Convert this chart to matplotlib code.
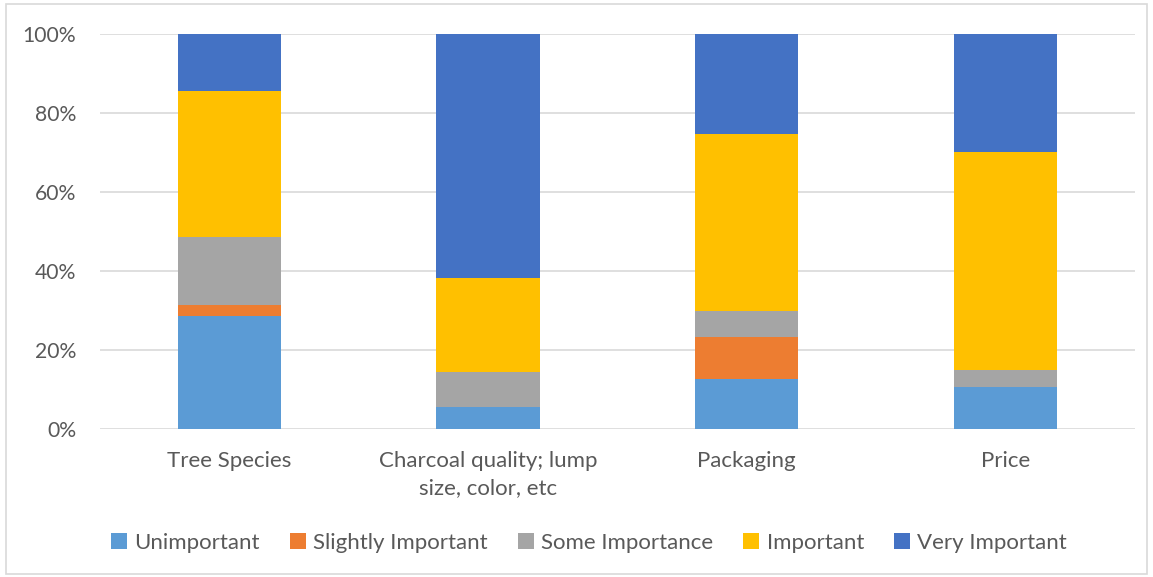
import matplotlib
matplotlib.use("Agg")
import matplotlib.pyplot as plt
from matplotlib.patches import Rectangle
import numpy as np

categories = ["Tree Species", "Charcoal quality; lump\nsize, color, etc", "Packaging", "Price"]
series_names = ["Unimportant", "Slightly Important", "Some Importance", "Important", "Very Important"]
unimportant = [28.6, 5.6, 12.7, 10.6]
slightly_important = [2.7, 0.0, 10.7, 0.0]
some_importance = [17.2, 8.9, 6.4, 4.3]
important = [37.1, 23.7, 44.9, 55.1]
very_important = [14.4, 61.8, 25.3, 29.9]
colors = ["#5B9BD5", "#ED7D31", "#A5A5A5", "#FFC000", "#4472C4"]
yticks = [0, 20, 40, 60, 80, 100]
ytick_labels = ["0%", "20%", "40%", "60%", "80%", "100%"]

plt.rcParams["font.family"] = ["Lato", "DejaVu Sans"]
text_color = "#595959"

fig = plt.figure(figsize=(11.53, 5.77), dpi=100)
ax = fig.add_axes([0.0867, 0.2565, 0.8975, 0.6847])

series = [unimportant, slightly_important, some_importance, important, very_important]
x = np.arange(len(categories))
bottom = np.zeros(len(categories))
for name, vals, c in zip(series_names, series, colors):
    vals = np.array(vals)
    ax.bar(x, vals, bottom=bottom, width=0.4, color=c, label=name, zorder=3)
    bottom += vals

ax.set_xlim(-0.5, len(categories) - 0.5)
ax.set_ylim(0, 100)
ax.set_yticks(yticks)
ax.set_yticklabels(ytick_labels, color=text_color, fontsize=15.2)
ax.set_xticks(x)
ax.set_xticklabels(categories, color=text_color, fontsize=16, linespacing=1.4)
ax.tick_params(axis="both", length=0)
ax.tick_params(axis="y", pad=17)
ax.tick_params(axis="x", pad=16)
ax.grid(axis="y", color="#D9D9D9", linewidth=1.2, zorder=0)
for s in ax.spines.values():
    s.set_visible(False)

leg = fig.legend(loc="center", bbox_to_anchor=(0.511, 0.059), ncol=5, frameon=False,
                 fontsize=16, handlelength=0.7, handleheight=0.7, handletextpad=0.35,
                 columnspacing=1.35)
for t in leg.get_texts():
    t.set_color(text_color)

fig.patches.append(Rectangle((0.005, 0.005), 0.99, 0.988, transform=fig.transFigure,
                             fill=False, edgecolor="#D9D9D9", linewidth=1.2))

fig.savefig("out.png", dpi=100)
